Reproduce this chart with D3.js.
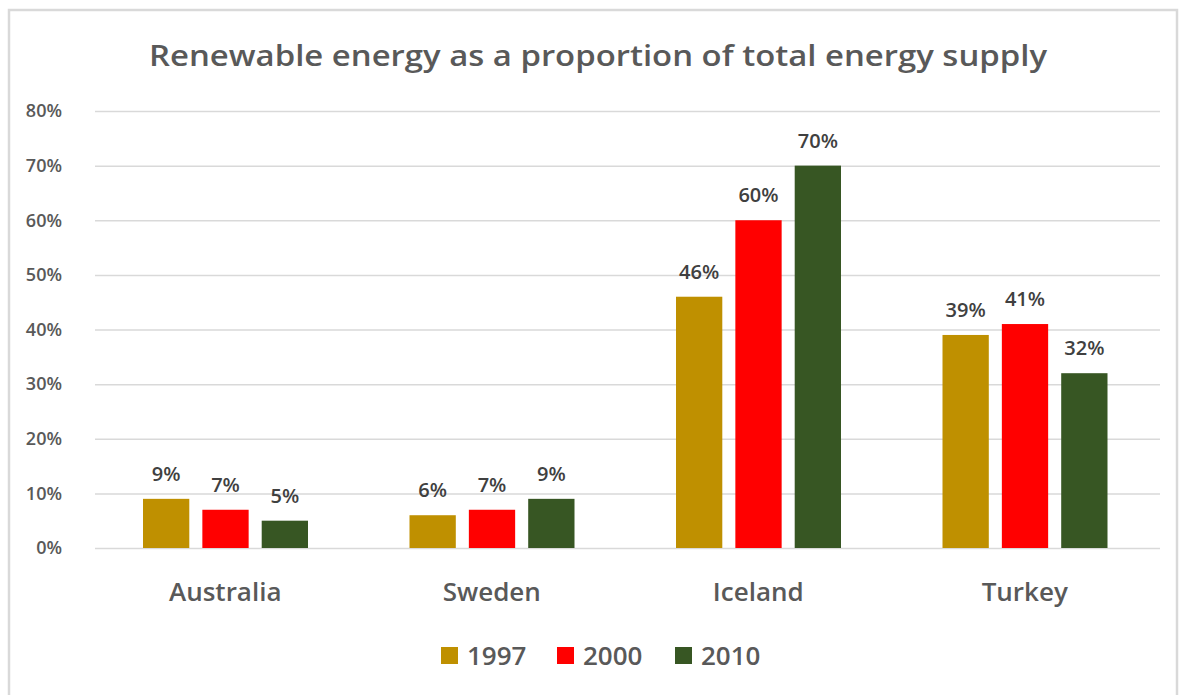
<!DOCTYPE html>
<html><head><meta charset="utf-8">
<script src="https://cdn.jsdelivr.net/npm/d3@7"></script>
<style>body{margin:0;background:#fff;} svg{display:block;}</style>
</head><body><svg id="c" width="1186" height="695"></svg>
<script>
const categories = ["Australia","Sweden","Iceland","Turkey"];
const years = ["1997","2000","2010"];
const v1997 = [9,6,46,39];
const v2000 = [7,7,60,41];
const v2010 = [5,9,70,32];
const yTicks = [0,10,20,30,40,50,60,70,80];
const colors = ["#bf9000","#ff0000","#375623"];
const title = "Renewable energy as a proportion of total energy supply";

const series = [v1997,v2000,v2010];
const svg = d3.select("#c");
const font = "'Open Sans', 'Liberation Sans', sans-serif";
const txt = "#595959";

svg.append("rect").attr("x",9).attr("y",10).attr("width",1168).attr("height",690)
  .attr("fill","#fff").attr("stroke","#d9d9d9").attr("stroke-width",2.5);

svg.append("text").attr("x",598).attr("y",66).attr("text-anchor","middle")
  .attr("font-family",font).attr("font-size",29).attr("fill",txt).attr("font-weight",600)
  .attr("textLength",898).attr("lengthAdjust","spacingAndGlyphs")
  .text(title);

const y = d3.scaleLinear().domain([0,80]).range([548,111]);
const x0 = d3.scaleBand().domain(categories).range([92,1158]);
const x1 = d3.scaleBand().domain(years).range([51,216]).paddingInner(0.22);

const yAxis = d3.axisLeft(y).tickValues(yTicks).tickFormat(d=>d+"%").tickSize(-(1160-95)).tickPadding(33);
const gy = svg.append("g").attr("transform","translate(95,0)").call(yAxis);
gy.select(".domain").remove();
gy.selectAll(".tick line").attr("stroke","#d9d9d9").attr("stroke-width",1.5);
gy.selectAll(".tick text").attr("font-family",font).attr("font-size",18).attr("font-weight",600).attr("fill",txt);

const xAxis = d3.axisBottom(x0).tickSize(0);
const gx = svg.append("g").attr("transform","translate(0,548)").call(xAxis);
gx.select(".domain").remove();
gx.selectAll(".tick text").attr("y",53).attr("dy","0").attr("font-family",font).attr("font-size",26)
  .attr("font-weight",600).attr("fill",txt);

categories.forEach((c,ci)=>{
  const g = svg.append("g").attr("transform",`translate(${x0(c)},0)`);
  years.forEach((yr,si)=>{
    const v = series[si][ci];
    g.append("rect").attr("x",x1(yr)).attr("width",x1.bandwidth())
      .attr("y",y(v)).attr("height",y(0)-y(v)).attr("fill",colors[si]);
    g.append("text").attr("x",x1(yr)+x1.bandwidth()/2).attr("y",y(v)-18)
      .attr("text-anchor","middle").attr("font-family",font).attr("font-size",20)
      .attr("font-weight",600).attr("fill","#404040").text(v+"%");
  });
});

const legX = [441,557,675];
years.forEach((yr,i)=>{
  svg.append("rect").attr("x",legX[i]).attr("y",647).attr("width",17).attr("height",17).attr("fill",colors[i]);
  svg.append("text").attr("x",legX[i]+26).attr("y",665).attr("font-family",font)
    .attr("font-size",26).attr("font-weight",600).attr("fill",txt).text(yr);
});
</script></body></html>
